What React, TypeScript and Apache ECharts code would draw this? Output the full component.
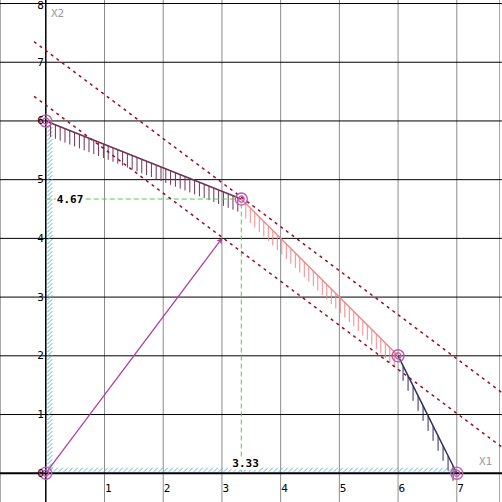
import React, { useEffect, useRef } from 'react';
import * as echarts from 'echarts';

const X_MIN = -0.78;
const X_MAX = 7.77;
const Y_MIN = -0.49;
const Y_MAX = 8.06;

const xTicks = [1, 2, 3, 4, 5, 6, 7];
const xLabels = ['1', '2', '3', '4', '5', '6', '7'];
const yTicks = [0, 1, 2, 3, 4, 5, 6, 7, 8];
const yLabels = ['0', '1', '2', '3', '4', '5', '6', '7', '8'];
const yGrid = [1, 2, 3, 4, 5, 6, 7, 8];

const vertices = [[0, 0], [0, 6], [3.33, 4.67], [6, 2], [7, 0]];
const constraintA = [[0, 6], [3.33, 4.67]];
const constraintB = [[3.33, 4.67], [6, 2]];
const constraintC = [[6, 2], [7, 0]];
const boundX1 = [[0, 0], [0, 6]];
const boundX2 = [[0, 0], [7, 0]];
const objectiveHigh = [[-0.2, 7.35], [7.8, 1.35]];
const objectiveLow = [[-0.2, 6.42], [7.8, 0.42]];
const gradient = [[0, 0], [3, 4]];
const optimum = [3.33, 4.67];
const optLabelX = '3.33';
const optLabelY = '4.67';

const MONO = '"DejaVu Sans Mono", "Liberation Mono", monospace';

function segHatch(seg: number[][], color: string, spacing: number, len: number) {
  return {
    type: 'custom',
    z: 3,
    silent: true,
    clip: false,
    data: [[seg[0][0], seg[0][1], seg[1][0], seg[1][1]]],
    encode: { x: [0, 2], y: [1, 3] },
    renderItem: (_p: any, api: any) => {
      const p1 = api.coord([api.value(0), api.value(1)]);
      const p2 = api.coord([api.value(2), api.value(3)]);
      const dx = p2[0] - p1[0];
      const n = Math.floor(Math.abs(dx) / spacing);
      const children: any[] = [];
      for (let i = 1; i <= n; i++) {
        const x = p1[0] + i * spacing;
        const y = p1[1] + (p2[1] - p1[1]) * ((i * spacing) / dx);
        children.push({
          type: 'line',
          shape: { x1: x, y1: y, x2: x, y2: y + len },
          style: { stroke: color, lineWidth: 1 },
        });
      }
      return { type: 'group', children };
    },
  };
}

function axisHatch(seg: number[][], vertical: boolean, color: string) {
  return {
    type: 'custom',
    z: 3,
    silent: true,
    clip: false,
    data: [[seg[0][0], seg[0][1], seg[1][0], seg[1][1]]],
    encode: { x: [0, 2], y: [1, 3] },
    renderItem: (_p: any, api: any) => {
      const p1 = api.coord([api.value(0), api.value(1)]);
      const p2 = api.coord([api.value(2), api.value(3)]);
      const children: any[] = [];
      if (vertical) {
        const total = Math.abs(p2[1] - p1[1]);
        for (let d = 1; d + 5 <= total; d += 4) {
          const y = p1[1] - d;
          children.push({
            type: 'line',
            shape: { x1: p1[0] + 1.5, y1: y, x2: p1[0] + 6.5, y2: y - 5 },
            style: { stroke: color, lineWidth: 1 },
          });
        }
      } else {
        const total = Math.abs(p2[0] - p1[0]);
        for (let d = 3; d + 4 <= total; d += 5) {
          const x = p1[0] + d;
          children.push({
            type: 'line',
            shape: { x1: x, y1: p1[1] - 1.5, x2: x + 4, y2: p1[1] - 5.5 },
            style: { stroke: color, lineWidth: 1 },
          });
        }
      }
      return { type: 'group', children };
    },
  };
}

function lineSeries(data: number[][], color: string, width: number, z: number, extra: any = {}) {
  return {
    type: 'line',
    data,
    symbol: 'none',
    z,
    silent: true,
    lineStyle: { color, width, ...extra },
  };
}

export default function App() {
  const ref = useRef<HTMLDivElement>(null);
  useEffect(() => {
    if (!ref.current) return;
    const chart = echarts.init(ref.current, null, { renderer: 'svg' });
    const option: any = {
      animation: false,
      backgroundColor: '#ffffff',
      grid: { left: 0, right: 0, top: 0, bottom: 0 },
      xAxis: { type: 'value', min: X_MIN, max: X_MAX, show: false },
      yAxis: { type: 'value', min: Y_MIN, max: Y_MAX, show: false },
      graphic: [
        { type: 'line', shape: { x1: 0.5, y1: 0, x2: 0.5, y2: 502 }, style: { stroke: '#a8a8a8', lineWidth: 1 }, z: 0 },
        { type: 'line', shape: { x1: 499.5, y1: 0, x2: 499.5, y2: 502 }, style: { stroke: '#a8a8a8', lineWidth: 1 }, z: 0 },
        { type: 'text', x: 51, y: 13, z: 10, style: { text: 'X2', fill: '#9a9a9a', font: `11px ${MONO}`, verticalAlign: 'middle', align: 'left' } },
        { type: 'text', x: 479, y: 461, z: 10, style: { text: 'X1', fill: '#9a9a9a', font: `11px ${MONO}`, verticalAlign: 'middle', align: 'left' } },
      ],
      series: [
        {
          type: 'custom',
          z: 1,
          silent: true,
          clip: false,
          data: xTicks.map((v) => [v, 0]),
          renderItem: (_p: any, api: any) => {
            const a = api.coord([api.value(0), Y_MIN]);
            const b = api.coord([api.value(0), Y_MAX]);
            return { type: 'line', shape: { x1: a[0], y1: a[1], x2: b[0], y2: b[1] }, style: { stroke: '#8c8c8c', lineWidth: 1 } };
          },
        },
        {
          type: 'custom',
          z: 1,
          silent: true,
          clip: false,
          data: yGrid.map((v) => [0, v]),
          renderItem: (_p: any, api: any) => {
            const a = api.coord([X_MIN, api.value(1)]);
            const b = api.coord([X_MAX, api.value(1)]);
            return { type: 'line', shape: { x1: a[0], y1: a[1], x2: b[0], y2: b[1] }, style: { stroke: '#000000', lineWidth: 1 } };
          },
        },
        lineSeries([[X_MIN, 0], [X_MAX, 0]], '#000000', 2.2, 2),
        lineSeries([[0, Y_MIN], [0, Y_MAX]], '#000000', 1.5, 2),
        {
          type: 'custom',
          z: 8,
          silent: true,
          clip: false,
          data: xTicks.map((v, i) => [v, 0, i]),
          renderItem: (_p: any, api: any) => {
            const p = api.coord([api.value(0), 0]);
            return {
              type: 'text',
              x: p[0] + 0.5,
              y: p[1] + 15,
              style: { text: xLabels[api.value(2)], fill: '#000', font: `11px ${MONO}`, align: 'left', verticalAlign: 'middle' },
            };
          },
        },
        {
          type: 'custom',
          z: 8,
          silent: true,
          clip: false,
          data: yTicks.map((v, i) => [0, v, i]),
          renderItem: (_p: any, api: any) => {
            const p = api.coord([0, api.value(1)]);
            return {
              type: 'text',
              x: p[0] - 2,
              y: Math.max(p[1], 5),
              style: { text: yLabels[api.value(2)], fill: '#000', font: `11px ${MONO}`, align: 'right', verticalAlign: 'middle' },
            };
          },
        },
        axisHatch(boundX1, true, '#58b4d8'),
        axisHatch(boundX2, false, '#58b4d8'),
        segHatch(constraintA, '#6e3355', 4.8, 14),
        segHatch(constraintB, '#f08a8a', 4.5, 15),
        segHatch(constraintC, '#2e2e5c', 5, 15),
        lineSeries([[0, optimum[1]], optimum, [optimum[0], 0]], '#4fcf4f', 1, 3, { type: [5, 3] }),
        lineSeries(objectiveHigh, '#9a0a22', 1.5, 4, { type: [3, 4] }),
        lineSeries(objectiveLow, '#9a0a22', 1.5, 4, { type: [3, 4] }),
        lineSeries(constraintA, '#6e3355', 1.5, 5),
        lineSeries(constraintB, '#f08a8a', 1.5, 5),
        lineSeries(constraintC, '#2e2e5c', 1.5, 5),
        {
          type: 'lines',
          coordinateSystem: 'cartesian2d',
          z: 5,
          silent: true,
          symbol: ['none', 'arrow'],
          symbolSize: 5,
          lineStyle: { color: '#b03caa', width: 1.3, opacity: 1 },
          data: [{ coords: gradient }],
        },
        {
          type: 'custom',
          z: 6,
          silent: true,
          clip: false,
          data: vertices,
          renderItem: (_p: any, api: any) => {
            const p = api.coord([api.value(0), api.value(1)]);
            return {
              type: 'group',
              children: [
                { type: 'circle', shape: { cx: p[0], cy: p[1], r: 6 }, style: { fill: 'none', stroke: '#c45aae', lineWidth: 1.3 } },
                { type: 'circle', shape: { cx: p[0], cy: p[1], r: 3 }, style: { fill: 'none', stroke: '#c45aae', lineWidth: 1.3 } },
              ],
            };
          },
        },
        {
          type: 'custom',
          z: 9,
          silent: true,
          clip: false,
          data: [[optimum[0], optimum[1]]],
          renderItem: (_p: any, api: any) => {
            const py = api.coord([0, api.value(1)]);
            const px = api.coord([api.value(0), 0]);
            return {
              type: 'group',
              children: [
                {
                  type: 'text',
                  x: py[0] + 10,
                  y: py[1],
                  style: { text: optLabelY, fill: '#000', font: `bold 11px ${MONO}`, align: 'left', verticalAlign: 'middle', backgroundColor: '#fff', padding: [1, 1] },
                },
                {
                  type: 'text',
                  x: px[0] - 10,
                  y: px[1] - 10,
                  style: { text: optLabelX, fill: '#000', font: `bold 11px ${MONO}`, align: 'left', verticalAlign: 'middle', backgroundColor: '#fff', padding: [1, 1] },
                },
              ],
            };
          },
        },
      ],
    };
    chart.setOption(option);
    return () => chart.dispose();
  }, []);
  return <div ref={ref} style={{ position: 'absolute', left: 0, top: 0, width: 502, height: 502 }} />;
}
